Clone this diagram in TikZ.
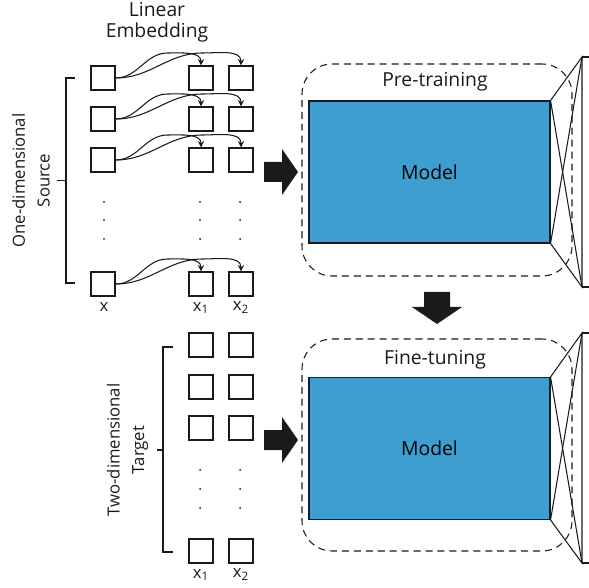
\documentclass[tikz,border=0pt]{standalone}
\usepackage{fontspec}
\setmainfont{Open Sans}
\usepackage{tikz}
\usetikzlibrary{calc}
\definecolor{modelblue}{RGB}{61,158,207}
\definecolor{ink}{RGB}{26,26,26}

\begin{document}
\begin{tikzpicture}[
  token/.style={rectangle, draw=ink, thick, minimum size=0.48cm, inner sep=0pt},
  model/.style={rectangle, draw=ink, semithick, fill=modelblue, minimum width=4.82cm,
                minimum height=2.84cm, font=\fontsize{11}{13}\selectfont},
  stage/.style={rectangle, draw=ink, semithick, dash pattern=on 4pt off 2.8pt,
                rounded corners=0.6cm, minimum width=5.4cm, minimum height=4.24cm},
  title/.style={font=\fontsize{11}{12}\selectfont, align=center, text=ink},
  side/.style={font=\fontsize{9.5}{14}\selectfont, align=center, rotate=90, text=ink},
  sub/.style={font=\fontsize{9.5}{11}\selectfont, text=ink},
  embed/.style={->, >=stealth, semithick, draw=ink},
  head/.style={draw=ink, semithick},
  block/.style={fill=ink}
]
\useasboundingbox (0,0) rectangle (11.78,-11.76);

% Source: one-dimensional input
\node[token] (src1) at (2.06,-1.56) {};
\node[token] (src2) at (2.06,-2.38) {};
\node[token] (src3) at (2.06,-3.20) {};
\node[token] (src4) at (2.06,-5.68) {};

% Linear embedding columns
\node[token] (emb11) at (4.02,-1.56) {};
\node[token] (emb12) at (4.82,-1.56) {};
\node[token] (emb21) at (4.02,-2.38) {};
\node[token] (emb22) at (4.82,-2.38) {};
\node[token] (emb31) at (4.02,-3.20) {};
\node[token] (emb32) at (4.82,-3.20) {};
\node[token] (emb41) at (4.02,-5.68) {};
\node[token] (emb42) at (4.82,-5.68) {};

\foreach \x in {2.08,4.00,4.80}
  \foreach \y in {-4.04,-4.40,-4.78}
    \fill[ink] (\x,\y) circle (0.02);

\node[title] (linemb) at (3.14,-0.45) {Linear\\Embedding};
\node[sub] (lx) at (2.08,-6.14) {x};
\node[sub] (lx1) at (4.02,-6.16) {x\textsubscript{1}};
\node[sub] (lx2) at (4.82,-6.16) {x\textsubscript{2}};

% Embedding arrows
\foreach \r in {1,2,3,4} {
  \draw[embed] (src\r.east) to[out=0, in=180] ++(1.04,0.5) to[out=0, in=90] (emb\r1.north);
  \draw[embed] (src\r.east) to[out=0, in=180] ++(1.74,0.5) to[out=0, in=90] (emb\r2.north);
}

% Brace and label (source)
\draw[ink, semithick] (1.50,-1.56) -- (1.32,-1.56) -- (1.32,-5.66) -- (1.50,-5.66);
\draw[ink, semithick] (1.32,-3.61) -- (1.14,-3.61);
\node[side] (srclab) at (0.62,-3.61) {One-dimensional\\Source};

% Target: two-dimensional input
\node[token] (tgt11) at (4.02,-6.90) {};
\node[token] (tgt12) at (4.82,-6.90) {};
\node[token] (tgt21) at (4.02,-7.74) {};
\node[token] (tgt22) at (4.82,-7.74) {};
\node[token] (tgt31) at (4.02,-8.56) {};
\node[token] (tgt32) at (4.82,-8.56) {};
\node[token] (tgt41) at (4.02,-11.02) {};
\node[token] (tgt42) at (4.82,-11.02) {};

\foreach \x in {4.00,4.80}
  \foreach \y in {-9.40,-9.78,-10.16}
    \fill[ink] (\x,\y) circle (0.02);

\node[sub] (tx1) at (4.02,-11.50) {x\textsubscript{1}};
\node[sub] (tx2) at (4.82,-11.50) {x\textsubscript{2}};

% Brace and label (target)
\draw[ink, semithick] (3.46,-6.94) -- (3.26,-6.94) -- (3.26,-11.04) -- (3.46,-11.04);
\draw[ink, semithick] (3.26,-9.00) -- (3.14,-9.00);
\node[side] (tgtlab) at (2.55,-9.00) {Two-dimensional\\Target};

% Pre-training stage
\node[stage] (pre) at (8.74,-3.40) {};
\node[model] (m1) at (8.59,-3.44) {Model};
\node[title] (pretxt) at (8.70,-1.64) {Pre-training};
\coordinate (h1t) at (11.64,-1.14);
\coordinate (h1b) at (11.64,-5.74);
\draw[head] (m1.north east) -- (h1t) -- (h1b) -- (m1.south east);
\draw[head] (m1.north east) -- (h1b);
\draw[head] (m1.south east) -- (h1t);
\draw[head] (h1t) -- ++(0.14,0);
\draw[head] (h1b) -- ++(0.14,0);

% Fine-tuning stage
\node[stage] (fine) at (8.74,-8.90) {};
\node[model] (m2) at (8.59,-8.97) {Model};
\node[title] (finetxt) at (8.70,-7.20) {Fine-tuning};
\coordinate (h2t) at (11.64,-6.66);
\coordinate (h2b) at (11.64,-11.26);
\draw[head] (m2.north east) -- (h2t) -- (h2b) -- (m2.south east);
\draw[head] (m2.north east) -- (h2b);
\draw[head] (m2.south east) -- (h2t);
\draw[head] (h2t) -- ++(0.14,0);
\draw[head] (h2b) -- ++(0.14,0);

% Block arrows
\fill[block, shift={(5.28,-3.44)}] (0,0.2) -- (0.36,0.2) -- (0.36,0.46) -- (0.68,0)
  -- (0.36,-0.46) -- (0.36,-0.2) -- (0,-0.2) -- cycle;
\fill[block, shift={(5.28,-8.80)}] (0,0.2) -- (0.36,0.2) -- (0.36,0.46) -- (0.68,0)
  -- (0.36,-0.46) -- (0.36,-0.2) -- (0,-0.2) -- cycle;
\fill[block, shift={(8.74,-5.84)}] (-0.26,0) -- (0.26,0) -- (0.26,-0.30) -- (0.50,-0.30)
  -- (0,-0.64) -- (-0.50,-0.30) -- (-0.26,-0.30) -- cycle;

\end{tikzpicture}
\end{document}
